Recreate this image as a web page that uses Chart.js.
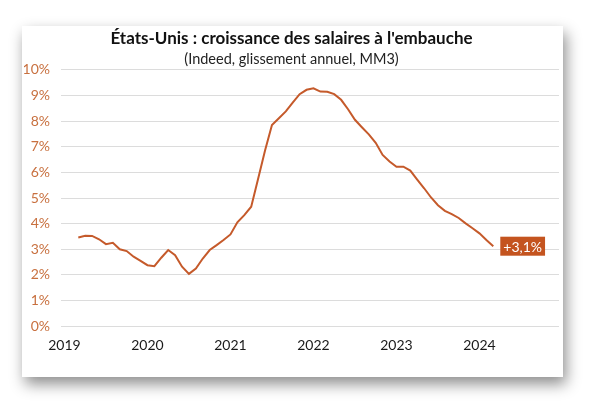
<!DOCTYPE html>
<html>
<head>
<meta charset="utf-8">
<script src="https://cdn.jsdelivr.net/npm/chart.js@4"></script>
<style>
  html, body { margin: 0; padding: 0; background: #fff; }
  body { width: 606px; height: 410px; position: relative; overflow: hidden; }
  .panel {
    position: absolute; left: 22px; top: 26px; width: 541px; height: 351px;
    background: #fff;
    box-shadow: 3px 7px 14px rgba(0, 0, 0, 0.45);
  }
  .panel canvas { position: absolute; left: 0; top: 0; }
</style>
</head>
<body>
<div class="panel">
  <canvas id="chart" width="541" height="351"></canvas>
</div>
<script>
// Monthly axis, Jan 2019 -> Dec 2024
const years = [2019, 2020, 2021, 2022, 2023, 2024];
const yTicks = [0, 1, 2, 3, 4, 5, 6, 7, 8, 9, 10];

// Indeed posted wage growth, % y/y, 3-month average (Mar 2019 -> Mar 2024)
const wages2019 = [null, null, 3.46, 3.53, 3.52, 3.39, 3.20, 3.25, 3.00, 2.93, 2.71, 2.55];
const wages2020 = [2.38, 2.34, 2.67, 2.97, 2.77, 2.32, 2.04, 2.25, 2.64, 2.97, 3.16, 3.36];
const wages2021 = [3.58, 4.05, 4.33, 4.66, 5.75, 6.85, 7.85, 8.11, 8.38, 8.72, 9.05, 9.22];
const wages2022 = [9.28, 9.15, 9.14, 9.05, 8.83, 8.46, 8.05, 7.76, 7.48, 7.15, 6.68, 6.42];
const wages2023 = [6.22, 6.22, 6.07, 5.72, 5.38, 5.02, 4.72, 4.50, 4.37, 4.22, 4.01, 3.82];
const wages2024 = [3.62, 3.36, 3.12, null, null, null, null, null, null, null, null, null];

const lastLabel = '+3,1%';

const labels = [];
years.forEach(y => {
    for (let m = 1; m <= 12; m++) labels.push(y + '-' + String(m).padStart(2, '0'));
});
const wages = [].concat(wages2019, wages2020, wages2021, wages2022, wages2023, wages2024);

const ORANGE = '#C55A2B';
const FONT = "'Lato', 'Open Sans', sans-serif";

// box with the latest value, right of the last point
const lastValueBox = {
    id: 'lastValueBox',
    afterDatasetsDraw(chart) {
        const meta = chart.getDatasetMeta(0);
        let idx = -1;
        wages.forEach((v, i) => { if (v !== null) idx = i; });
        if (idx < 0) return;
        const pt = meta.data[idx];
        const ctx = chart.ctx;
        ctx.save();
        ctx.font = '14px ' + FONT;
        const w = ctx.measureText(lastLabel).width + 6;
        const h = 19;
        const x = pt.x + 7;
        const y = pt.y - h / 2;
        ctx.fillStyle = '#C4541F';
        ctx.fillRect(x, y, w, h);
        ctx.fillStyle = '#fff';
        ctx.textBaseline = 'middle';
        ctx.fillText(lastLabel, x + 3, pt.y + 1);
        ctx.restore();
    }
};

new Chart(document.getElementById('chart'), {
    type: 'line',
    data: {
        labels: labels,
        datasets: [{
            data: wages,
            borderColor: ORANGE,
            borderWidth: 2,
            pointRadius: 0,
            tension: 0,
            spanGaps: false
        }]
    },
    options: {
        responsive: false,
        animation: false,
        layout: { padding: { left: 2, right: 4, top: 0, bottom: 12 } },
        plugins: {
            legend: { display: false },
            tooltip: { enabled: false },
            title: {
                display: true,
                text: "États-Unis : croissance des salaires à l'embauche",
                color: '#111',
                font: { family: FONT, size: 17, weight: 'bold' },
                padding: { top: 2, bottom: 2 }
            },
            subtitle: {
                display: true,
                text: '(Indeed, glissement annuel, MM3)',
                color: '#222',
                font: { family: FONT, size: 14.5 },
                padding: { top: 0, bottom: 2 }
            }
        },
        scales: {
            x: {
                type: 'category',
                offset: true,
                grid: { display: false, drawTicks: false },
                border: { display: false },
                ticks: {
                    autoSkip: false,
                    maxRotation: 0,
                    padding: 11,
                    color: '#1a1a1a',
                    font: { family: FONT, size: 14 },
                    callback(value, index) {
                        const lab = labels[index];
                        return lab.endsWith('-01') ? lab.slice(0, 4) : null;
                    }
                }
            },
            y: {
                min: 0,
                max: 10,
                afterFit(scale) { scale.width = 37; },
                afterBuildTicks(scale) { scale.ticks = yTicks.map(v => ({ value: v })); },
                grid: { color: '#dcdcdc', lineWidth: 1, drawTicks: false },
                border: { display: false },
                ticks: {
                    padding: 11,
                    color: '#C8703F',
                    font: { family: FONT, size: 14 },
                    callback: v => v + '%'
                }
            }
        }
    },
    plugins: [lastValueBox]
});
</script>
</body>
</html>
